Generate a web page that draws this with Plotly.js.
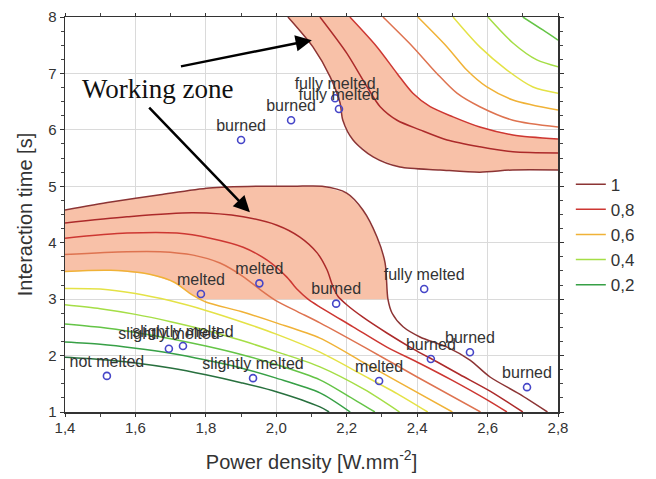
<!DOCTYPE html>
<html><head><meta charset="utf-8">
<script src="https://cdn.plot.ly/plotly-3.0.1.min.js"></script>
<style>html,body{margin:0;padding:0;background:#fff}</style>
</head><body><div id="chart" style="width:656px;height:479px"></div>
<script>
// ---- contour levels ----
const levels = [1, 0.9, 0.8, 0.7, 0.6, 0.5, 0.4, 0.3, 0.2, 0.1];
const levelNames = ['1', '0,9', '0,8', '0,7', '0,6', '0,5', '0,4', '0,3', '0,2', '0,1'];
const legendLevels = [1, 0.8, 0.6, 0.4, 0.2];

// ---- lower contour family ----
const low10X = [1.40,1.53,1.67,1.81,1.95,2.05,2.13,2.20,2.246,2.286,2.309,2.317,2.329,2.36,2.408,2.485,2.55,2.607,2.69,2.77];
const low10Y = [4.58,4.72,4.85,4.97,5.00,5.00,5.00,4.88,4.58,4.10,3.64,3.00,2.75,2.51,2.33,2.15,1.92,1.62,1.32,1.00];
const low09X = [1.40,1.576,1.764,1.906,2.002,2.067,2.116,2.144,2.161,2.175,2.20,2.246,2.314,2.388,2.456,2.522,2.607,2.70];
const low09Y = [4.35,4.46,4.53,4.46,4.31,4.10,3.82,3.52,3.22,3.05,2.90,2.68,2.40,2.12,1.89,1.66,1.37,1.00];
const low08X = [1.40,1.576,1.718,1.812,1.906,1.974,2.03,2.06,2.09,2.124,2.218,2.314,2.408,2.50,2.60,2.655];
const low08Y = [4.08,4.17,4.17,4.08,3.92,3.69,3.39,3.17,3.00,2.86,2.51,2.15,1.86,1.56,1.21,1.00];
const low07X = [1.40,1.576,1.67,1.764,1.84,1.906,1.954,2.00,2.06,2.124,2.25,2.40,2.58];
const low07Y = [3.79,3.84,3.84,3.78,3.64,3.40,3.17,2.97,2.78,2.58,2.15,1.62,1.00];
const low06X = [1.40,1.53,1.64,1.71,1.76,1.80,1.90,2.00,2.124,2.25,2.35,2.50];
const low06Y = [3.49,3.51,3.44,3.30,3.08,2.95,2.78,2.58,2.31,1.87,1.52,1.00];
const low05X = [1.40,1.50,1.60,1.70,1.80,1.90,2.00,2.124,2.25,2.35,2.43];
const low05Y = [3.19,3.18,3.10,2.97,2.80,2.60,2.38,2.06,1.64,1.30,1.00];
const low04X = [1.40,1.50,1.60,1.70,1.80,1.90,2.00,2.124,2.25,2.35];
const low04Y = [2.90,2.83,2.73,2.60,2.45,2.27,2.07,1.80,1.40,1.00];
const low03X = [1.40,1.50,1.60,1.70,1.80,1.90,2.00,2.124,2.20,2.28];
const low03Y = [2.56,2.50,2.41,2.30,2.17,2.02,1.84,1.57,1.30,1.00];
const low02X = [1.40,1.50,1.60,1.70,1.80,1.90,2.00,2.124,2.21];
const low02Y = [2.24,2.20,2.13,2.04,1.92,1.78,1.60,1.34,1.00];
const low01X = [1.40,1.50,1.60,1.70,1.80,1.90,2.00,2.124,2.15];
const low01Y = [1.97,1.93,1.87,1.78,1.66,1.52,1.36,1.09,1.00];

// ---- upper contour family ----
const up10X = [2.033,2.104,2.153,2.181,2.189,2.218,2.275,2.351,2.465,2.578,2.672,2.80];
const up10Y = [8.00,7.47,6.94,6.48,6.17,5.82,5.52,5.34,5.29,5.25,5.29,5.29];
const up09X = [2.124,2.20,2.258,2.295,2.343,2.408,2.485,2.578,2.672,2.80];
const up09Y = [8.00,7.36,6.76,6.41,6.17,6.00,5.82,5.70,5.61,5.59];
const up08X = [2.209,2.286,2.343,2.388,2.437,2.502,2.578,2.672,2.80];
const up08Y = [8.00,7.47,7.00,6.65,6.41,6.23,6.05,5.91,5.84];
const up07X = [2.303,2.388,2.456,2.513,2.578,2.672,2.80];
const up07Y = [8.00,7.47,7.00,6.65,6.41,6.17,6.05];
const up06X = [2.402,2.485,2.541,2.598,2.672,2.80];
const up06Y = [8.00,7.47,7.06,6.76,6.53,6.35];
const up05X = [2.502,2.578,2.655,2.729,2.80];
const up05Y = [8.00,7.47,7.06,6.76,6.65];
const up04X = [2.601,2.672,2.740,2.80];
const up04Y = [8.00,7.54,7.24,7.12];
const up03X = [2.70,2.757,2.80];
const up03Y = [8.00,7.77,7.59];

// ---- experiment points ----
const pointX = [1.519,1.695,1.735,1.934,1.786,1.952,2.170,2.420,2.292,2.439,2.550,2.712,1.900,2.042,2.167,2.178];
const pointY = [1.64,2.12,2.17,1.60,3.09,3.28,2.92,3.18,1.55,1.94,2.06,1.44,5.82,6.17,6.56,6.37];
const pointLabels = ['not melted','slightly melted','slightly melted','slightly melted','melted','melted','burned',
  'fully melted','melted','burned','burned','burned','burned','burned','fully melted','fully melted'];

// working zone floor (interaction time cut)
const zoneFloor = 3;

// ---- styles ----
const levelColors = {
  1: 'rgb(140,52,52)', 0.9: 'rgb(172,42,42)', 0.8: 'rgb(205,55,50)', 0.7: 'rgb(222,115,80)',
  0.6: 'rgb(240,178,55)', 0.5: 'rgb(228,226,70)', 0.4: 'rgb(165,222,70)', 0.3: 'rgb(100,196,70)',
  0.2: 'rgb(55,160,70)', 0.1: 'rgb(40,112,62)'
};
const zoneColor = 'rgb(248,193,168)';
const FONT = 'Liberation Sans, Arial, sans-serif';

function clipAbove(xs, ys, y0) {
  const ox = [], oy = [];
  for (let i = 0; i < xs.length; i++) {
    if (ys[i] >= y0) { ox.push(xs[i]); oy.push(ys[i]); }
    if (i < xs.length - 1 && (ys[i] - y0) * (ys[i + 1] - y0) < 0) {
      const t = (y0 - ys[i]) / (ys[i + 1] - ys[i]);
      ox.push(xs[i] + t * (xs[i + 1] - xs[i])); oy.push(y0);
    }
  }
  return [ox, oy];
}

const traces = [];
// upper working zone: between level 1 and level 0.8
traces.push({
  x: up10X.concat(up08X.slice().reverse()),
  y: up10Y.concat(up08Y.slice().reverse()),
  type: 'scatter', mode: 'lines', fill: 'toself', fillcolor: zoneColor,
  line: {width: 0}, hoverinfo: 'skip', showlegend: false
});
// lower working zone: between level 1 and level 0.6, above the time floor
const [l1x, l1y] = clipAbove(low10X, low10Y, zoneFloor);
const [l6x, l6y] = clipAbove(low06X, low06Y, zoneFloor);
traces.push({
  x: l1x.concat(l6x.slice().reverse()),
  y: l1y.concat(l6y.slice().reverse()),
  type: 'scatter', mode: 'lines', fill: 'toself', fillcolor: zoneColor,
  line: {width: 0}, hoverinfo: 'skip', showlegend: false
});

const lowerLines = [[low10X,low10Y],[low09X,low09Y],[low08X,low08Y],[low07X,low07Y],[low06X,low06Y],
  [low05X,low05Y],[low04X,low04Y],[low03X,low03Y],[low02X,low02Y],[low01X,low01Y]];
const upperLines = [[up10X,up10Y],[up09X,up09Y],[up08X,up08Y],[up07X,up07Y],[up06X,up06Y],
  [up05X,up05Y],[up04X,up04Y],[up03X,up03Y]];

lowerLines.forEach((ln, i) => {
  const lv = levels[i];
  traces.push({
    x: ln[0], y: ln[1], type: 'scatter', mode: 'lines', name: levelNames[i],
    legendgroup: 'L' + lv, showlegend: legendLevels.includes(lv),
    line: {color: levelColors[lv], width: 1.5, shape: 'spline', smoothing: 0.8}, hoverinfo: 'skip'
  });
});
upperLines.forEach((ln, i) => {
  const lv = levels[i];
  traces.push({
    x: ln[0], y: ln[1], type: 'scatter', mode: 'lines', name: levelNames[i],
    legendgroup: 'L' + lv, showlegend: false,
    line: {color: levelColors[lv], width: 1.5, shape: 'spline', smoothing: 0.8}, hoverinfo: 'skip'
  });
});
traces.push({
  x: pointX, y: pointY, text: pointLabels, type: 'scatter', mode: 'markers+text',
  textposition: 'top center', textfont: {family: FONT, size: 16, color: '#333'},
  marker: {symbol: 'circle-open', size: 7, color: 'rgb(70,70,200)', line: {width: 1.6}},
  showlegend: false, cliponaxis: false
});

const layout = {
  width: 656, height: 479,
  margin: {l: 65, r: 98, t: 17, b: 67},
  paper_bgcolor: '#fff', plot_bgcolor: '#fff',
  separators: ', ',
  font: {family: FONT, color: '#333', size: 15},
  showlegend: true,
  legend: {x: 1.026, y: 0.621, xanchor: 'left', yanchor: 'top', font: {family: FONT, size: 17, color: '#333'},
    bgcolor: 'rgba(0,0,0,0)', traceorder: 'normal', itemwidth: 30, tracegroupgap: 0},
  xaxis: {
    range: [1.4, 2.8], tickvals: [1.4,1.6,1.8,2.0,2.2,2.4,2.6,2.8], tickformat: '.1f',
    showgrid: true, gridcolor: '#dadada', gridwidth: 1, zeroline: false,
    showline: true, linecolor: '#333', linewidth: 1.5, mirror: 'allticks',
    ticks: 'outside', ticklen: 3, tickcolor: '#333', ticklabelstandoff: -2,
    minor: {dtick: 0.1, ticks: 'outside', ticklen: 3, tickcolor: '#444', showgrid: false},
    tickfont: {family: FONT, size: 15, color: '#333'},
    title: {text: 'Power density [W.mm<sup>-2</sup>]', font: {family: FONT, size: 20, color: '#333'}, standoff: 20}
  },
  yaxis: {
    range: [1, 8], dtick: 1,
    showgrid: true, gridcolor: '#dadada', gridwidth: 1, zeroline: false,
    showline: true, linecolor: '#333', linewidth: 1.5, mirror: 'allticks',
    ticks: 'outside', ticklen: 4, tickcolor: '#333',
    minor: {dtick: 0.25, ticks: 'outside', ticklen: 3, tickcolor: '#444', showgrid: false},
    tickfont: {family: FONT, size: 15, color: '#333'},
    title: {text: 'Interaction time [s]', font: {family: FONT, size: 20, color: '#333'}, standoff: 10}
  },
  annotations: [
    {x: 1.664, y: 6.73, xref: 'x', yref: 'y', text: 'Working zone', showarrow: false,
     font: {family: 'Liberation Serif, Times New Roman, serif', size: 27, color: '#111'}},
    {x: 2.101, y: 7.59, ax: 1.725, ay: 7.12, xref: 'x', yref: 'y', axref: 'x', ayref: 'y',
     text: '', showarrow: true, arrowhead: 2, arrowsize: 1.3, arrowwidth: 2.5, arrowcolor: '#000'},
    {x: 1.925, y: 4.54, ax: 1.635, ay: 6.42, xref: 'x', yref: 'y', axref: 'x', ayref: 'y',
     text: '', showarrow: true, arrowhead: 2, arrowsize: 1.3, arrowwidth: 2.5, arrowcolor: '#000'}
  ]
};

Plotly.newPlot('chart', traces, layout, {displayModeBar: false, staticPlot: true});
</script></body></html>
